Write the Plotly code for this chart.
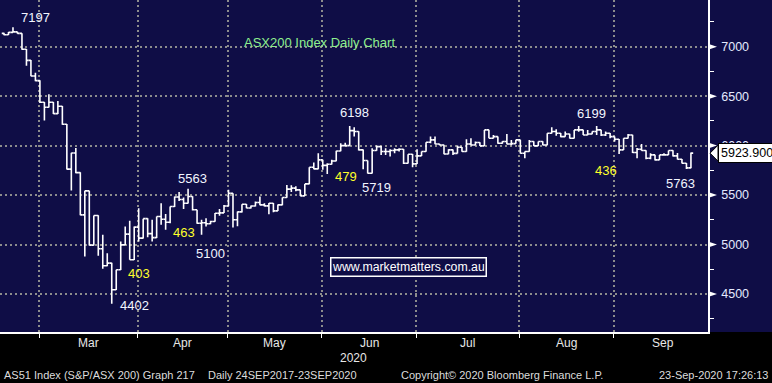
import plotly.graph_objects as go
import pandas as pd

# ---------------- data ----------------
holidays = ["2020-04-10", "2020-04-13", "2020-06-08"]
dates = [d for d in pd.bdate_range("2020-02-18", "2020-09-23")
         if d.strftime("%Y-%m-%d") not in holidays]

open_ = (
    [7135, 7121, 7145, 7150, 7135, 6974, 6862, 6704, 6657] +
    [6438, 6388, 6438, 6323, 6398, 6216, 5762, 5925, 5727, 5300, 5543, 4994, 5293, 4957, 4785, 4812,
     4543, 4745, 4997, 5105, 4846, 5176] +
    [5065, 5262, 5110, 5070, 5283, 5255, 5225, 5384, 5480, 5455, 5418, 5485, 5351, 5216, 5220, 5210,
     5233, 5317, 5320, 5390] +
    [5519, 5250, 5330, 5408, 5370, 5390, 5425, 5401, 5391, 5418, 5340, 5401, 5475, 5560, 5570, 5553,
     5492, 5613, 5782, 5765, 5856] +
    [5800, 5812, 5845, 5945, 6000, 6000, 6152, 6142, 5957, 5849, 5721, 5950, 5990, 5940, 5940, 5950,
     5957, 5963, 5822, 5913, 5815] +
    [5896, 5940, 6034, 6058, 6017, 6007, 5916, 5957, 5922, 5984, 5940, 6017, 6007, 6031, 5997, 6159,
     6074, 6091, 6024, 6041, 6017, 6020, 6058] +
    [5923, 5940, 6041, 5997, 6041, 6007, 6125, 6142, 6125, 6091, 6118, 6074, 6159, 6159, 6108, 6118,
     6142, 6159, 6108, 6125, 6091] +
    [6064, 5957, 6074, 6108, 5930, 5963, 5950, 5872, 5906, 5856, 5906, 5906, 5950, 5896, 5862, 5822, 5775]
)
high = (
    [7140, 7148, 7197, 7152, 7135, 6976, 6866, 6737, 6660] +
    [6440, 6519, 6440, 6452, 6400, 6218, 5929, 5977, 5730, 5543, 5545, 5293, 5295, 5098, 4913, 4815,
     4745, 5031, 5182, 5240, 5182, 5368] +
    [5262, 5265, 5250, 5283, 5418, 5310, 5384, 5485, 5530, 5475, 5563, 5487, 5353, 5250, 5267, 5240,
     5320, 5360, 5400, 5553] +
    [5519, 5334, 5408, 5410, 5395, 5434, 5485, 5418, 5420, 5420, 5405, 5475, 5603, 5600, 5590, 5555,
     5613, 5782, 5830, 5923, 5858] +
    [5822, 5856, 5947, 6024, 6030, 6198, 6186, 6145, 5960, 5850, 5974, 6000, 5997, 5973, 5963, 5973,
     5973, 5965, 5913, 5915, 5963] +
    [5940, 6034, 6091, 6091, 6019, 6009, 5963, 5960, 6000, 5986, 6064, 6074, 6041, 6033, 6159, 6161,
     6108, 6093, 6043, 6118, 6058, 6060, 6060] +
    [5940, 6058, 6043, 6041, 6043, 6125, 6186, 6165, 6127, 6142, 6120, 6159, 6199, 6161, 6159, 6142,
     6199, 6161, 6142, 6127, 6093] +
    [6066, 6074, 6118, 6110, 5975, 6017, 5952, 5923, 5908, 5906, 5923, 5950, 5952, 5926, 5864, 5824, 5930]
)
low = (
    [7115, 7118, 7140, 7130, 6970, 6808, 6700, 6650, 6430] +
    [6253, 6385, 6320, 6320, 6212, 5758, 5546, 5721, 5296, 4879, 4990, 4990, 4886, 4755, 4780, 4402,
     4540, 4742, 4995, 4846, 4843, 5031] +
    [5060, 5075, 5030, 5065, 5199, 5150, 5216, 5380, 5440, 5360, 5415, 5345, 5210, 5100, 5182, 5205,
     5230, 5290, 5318, 5388] +
    [5172, 5185, 5325, 5368, 5365, 5385, 5398, 5385, 5307, 5327, 5338, 5398, 5472, 5530, 5540, 5490,
     5490, 5610, 5760, 5762, 5755] +
    [5712, 5810, 5843, 5943, 5995, 5998, 6091, 5950, 5762, 5719, 5719, 5948, 5906, 5906, 5889, 5923,
     5940, 5815, 5820, 5782, 5813] +
    [5894, 5938, 6024, 6015, 6005, 5914, 5914, 5905, 5920, 5938, 5938, 6005, 6005, 5995, 5995, 6074,
     6072, 6020, 6020, 6015, 6005, 6018, 5920] +
    [5872, 5938, 5995, 5995, 6005, 6005, 6123, 6100, 6085, 6089, 6072, 6072, 6140, 6108, 6106, 6116,
     6108, 6098, 6098, 6074, 6041] +
    [5916, 5955, 6072, 5925, 5872, 5948, 5862, 5862, 5850, 5854, 5904, 5904, 5889, 5860, 5820, 5763, 5771]
)
close = (
    [7121, 7145, 7150, 7135, 6974, 6862, 6704, 6657, 6438] +
    [6388, 6438, 6323, 6398, 6216, 5762, 5925, 5727, 5300, 5543, 4994, 5293, 4957, 4785, 4812, 4543,
     4745, 4997, 5105, 4846, 5176, 5065] +
    [5262, 5110, 5070, 5283, 5255, 5225, 5384, 5480, 5455, 5418, 5485, 5351, 5216, 5220, 5210, 5233,
     5317, 5320, 5390, 5519] +
    [5250, 5330, 5408, 5370, 5390, 5425, 5401, 5391, 5418, 5340, 5401, 5475, 5560, 5570, 5553, 5492,
     5613, 5782, 5765, 5856, 5800] +
    [5812, 5845, 5945, 6000, 6000, 6152, 6142, 5957, 5849, 5721, 5950, 5990, 5940, 5940, 5950, 5957,
     5963, 5822, 5913, 5815, 5896] +
    [5940, 6034, 6058, 6017, 6007, 5916, 5957, 5922, 5984, 5940, 6017, 6007, 6031, 5997, 6159, 6074,
     6091, 6024, 6041, 6017, 6020, 6058, 5923] +
    [5940, 6041, 5997, 6041, 6007, 6125, 6142, 6125, 6091, 6118, 6074, 6159, 6159, 6108, 6118, 6142,
     6159, 6108, 6125, 6091, 6064] +
    [5957, 6074, 6108, 5930, 5963, 5950, 5872, 5906, 5856, 5906, 5906, 5950, 5896, 5862, 5822, 5775, 5923.9]
)

y_ticks = [4500, 5000, 5500, 6000, 6500, 7000]
month_names = ["Mar", "Apr", "May", "Jun", "Jul", "Aug", "Sep"]

# labels: (text, colour kind, pixel x, pixel y)
price_labels = [
    ("7197", "w", 35, 17), ("5563", "w", 192, 178), ("463", "y", 184, 232),
    ("5100", "w", 210, 253), ("403", "y", 139, 273), ("4402", "w", 134, 305),
    ("6198", "w", 354, 112), ("479", "y", 345.5, 176), ("5719", "w", 376.5, 187),
    ("6199", "w", 591, 113), ("436", "y", 605.5, 170), ("5763", "w", 680.5, 183),
]

# ---------------- geometry ----------------
W, H = 772, 383
PLOT_W, PLOT_H = 708, 332
XR = [-0.89, 156.8]
YR = [4116, 7472]
NAVY = "#0f0d46"


def dx(px):
    return XR[0] + px / PLOT_W * (XR[1] - XR[0])


def dy(py):
    return YR[1] - py / PLOT_H * (YR[1] - YR[0])


def pyp(v):
    return (v - YR[0]) / (YR[1] - YR[0])


x = list(range(len(dates)))

# month boundaries
month_first = []
for i, d in enumerate(dates):
    if i > 0 and d.month != dates[i - 1].month:
        month_first.append(i)
tickvals = [i - 1.2 for i in month_first]
centers = [(tickvals[k] + tickvals[k + 1]) / 2 for k in range(len(tickvals) - 1)]
centers.append(tickvals[-1] + 11)

fig = go.Figure(go.Ohlc(
    x=x, open=open_, high=high, low=low, close=close,
    increasing=dict(line=dict(color="white", width=1.6)),
    decreasing=dict(line=dict(color="white", width=1.6)),
    tickwidth=0.5, hoverinfo="skip", showlegend=False,
))

FONT = "Liberation Sans, Arial, sans-serif"
GRID = "#8c8c8c"

fig.update_layout(
    width=W, height=H, autosize=False,
    margin=dict(l=0, r=W - PLOT_W, t=0, b=H - PLOT_H),
    paper_bgcolor=NAVY, plot_bgcolor=NAVY,
    showlegend=False,
    font=dict(family=FONT, color="white"),
    xaxis=dict(
        range=XR, rangeslider=dict(visible=False),
        tickmode="array", tickvals=tickvals, showticklabels=False,
        ticks="outside", ticklen=4, tickcolor="white", tickwidth=1,
        showgrid=True, gridcolor=GRID, gridwidth=2, griddash="2px,3px",
        showline=True, linecolor="white", linewidth=1.5, zeroline=False,
    ),
    yaxis=dict(
        range=YR, side="right",
        tickmode="array", tickvals=y_ticks, ticktext=[str(v) for v in y_ticks],
        ticks="outside", ticklen=9, tickcolor="rgba(0,0,0,0)",
        tickfont=dict(size=12.5, color="#e4eaff", family=FONT),
        showgrid=True, gridcolor=GRID, gridwidth=2, griddash="2px,3px",
        showline=True, linecolor="white", linewidth=1.5, zeroline=False,
        minor=dict(tickmode="array", tickvals=[v - 250 for v in y_ticks] + [y_ticks[-1] + 250],
                   ticks="outside", ticklen=4, tickcolor="white", tickwidth=1, showgrid=False),
    ),
)

shapes = [
    dict(type="rect", xref="paper", yref="paper", x0=-0.05, x1=1.2, y0=-0.3, y1=0,
         fillcolor="black", line=dict(width=0), layer="below"),
]
# pointer triangles at major y ticks
tri_w = 9 / PLOT_W
tri_h = 3 / PLOT_H
for v in y_ticks:
    yp = pyp(v)
    shapes.append(dict(type="path", xref="paper", yref="paper",
                       path=f"M 1,{yp + tri_h} L {1 + tri_w},{yp} L 1,{yp - tri_h} Z",
                       fillcolor="white", line=dict(width=0)))
# last price pointer
last = close[-1]
yl = pyp(last)
shapes.append(dict(type="path", xref="paper", yref="paper",
                   path=f"M {1 + 2 / PLOT_W},{yl} L {1 + 10 / PLOT_W},{yl + 8 / PLOT_H} "
                        f"L {1 + 10 / PLOT_W},{yl - 8 / PLOT_H} Z",
                   fillcolor="white", line=dict(color="black", width=1)))
fig.update_layout(shapes=shapes)

ann = []
colors = {"w": "#f2f5ff", "y": "#ffff2a"}
for text, kind, px, py in price_labels:
    ann.append(dict(text=text, x=dx(px), y=dy(py), xref="x", yref="y", showarrow=False,
                    font=dict(size=13, color=colors[kind], family=FONT),
                    xanchor="center", yanchor="middle"))

ann.append(dict(text="ASX200 Index Daily Chart", x=dx(319), y=dy(42), xref="x", yref="y",
                showarrow=False, font=dict(size=13, color="#8ef08e", family=FONT)))

ann.append(dict(text="www.marketmatters.com.au", x=dx(408), y=dy(266.5), xref="x", yref="y",
                showarrow=False, font=dict(size=12.3, color="white", family=FONT),
                bordercolor="white", borderwidth=1.5, borderpad=1, width=152, height=15,
                bgcolor=NAVY))

ann.append(dict(text=f"{last:.3f}", x=1 + 10 / PLOT_W, y=last, xref="paper", yref="y",
                xanchor="left", yanchor="middle", showarrow=False,
                font=dict(size=12.5, color="black", family=FONT),
                bgcolor="white", bordercolor="black", borderwidth=1, borderpad=2))

for name, c in zip(month_names, centers):
    ann.append(dict(text=name, x=c, y=(PLOT_H - 343) / PLOT_H, xref="x", yref="paper",
                    showarrow=False, yanchor="middle",
                    font=dict(size=12, color="#e8e8e8", family=FONT)))
ann.append(dict(text="2020", x=353 / PLOT_W, y=(PLOT_H - 358) / PLOT_H, xref="paper", yref="paper",
                showarrow=False, yanchor="middle", font=dict(size=12, color="#e8e8e8", family=FONT)))

foot_y = (PLOT_H - 375) / PLOT_H
footer = [
    ("AS51 Index (S&P/ASX 200) Graph 217", 2, "left"),
    ("Daily 24SEP2017-23SEP2020", 206, "left"),
    ("Copyright© 2020 Bloomberg Finance L.P.", 399, "left"),
    ("23-Sep-2020 17:26:13", 770, "right"),
]
for text, px, anchor in footer:
    ann.append(dict(text=text, x=px / PLOT_W, y=foot_y, xref="paper", yref="paper",
                    xanchor=anchor, yanchor="middle", showarrow=False,
                    font=dict(size=11, color="#dcdcdc", family=FONT)))

fig.update_layout(annotations=ann)
fig.write_html(
    "out.html",
    config={"displayModeBar": False},
    post_script="document.body.style.margin='0';document.body.style.padding='0';"
                "document.body.style.background='black';",
)
